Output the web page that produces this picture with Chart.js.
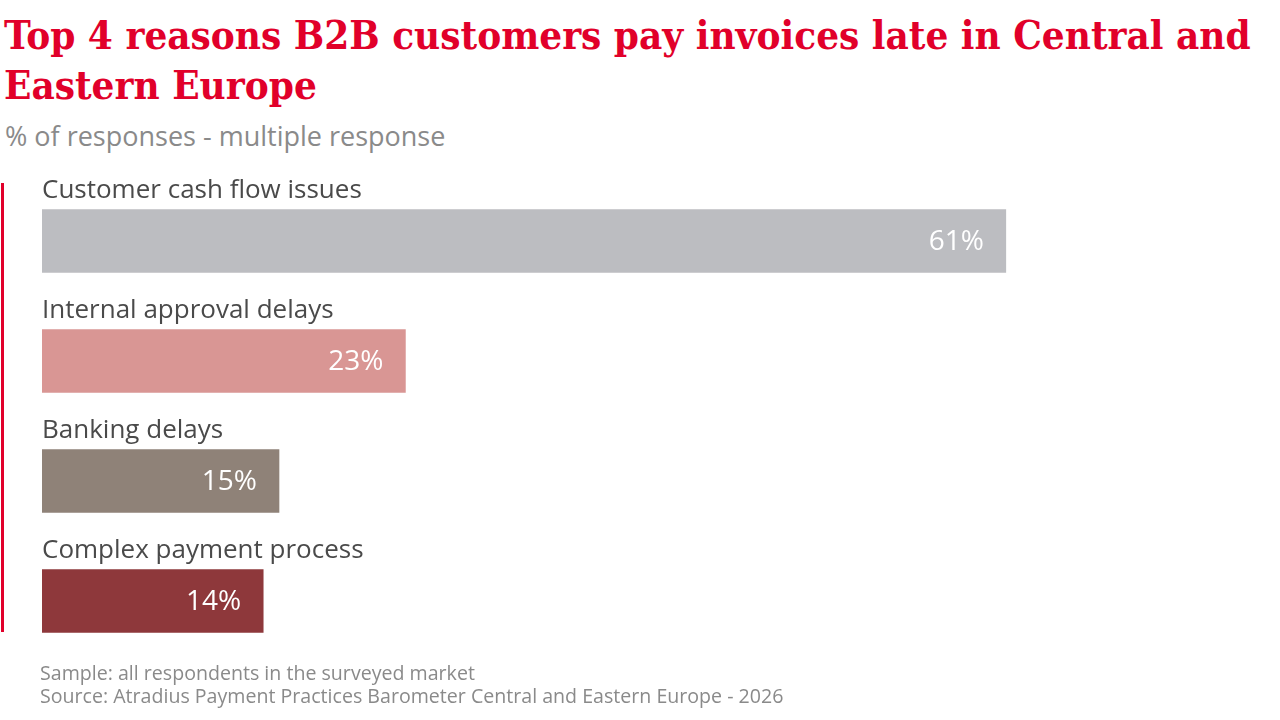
<!DOCTYPE html>
<html>
<head>
<meta charset="utf-8">
<script src="https://cdn.jsdelivr.net/npm/chart.js@4"></script>
<style>
  body { margin: 0; width: 1280px; height: 720px; background: #fff; position: relative; overflow: hidden; }
  #title { position: absolute; left: 4px; top: 10px; width: 1276px; margin: 0;
    font-family: "DejaVu Serif Condensed", "DejaVu Serif", serif; font-weight: bold; font-size: 40px;
    line-height: 50px; color: #E1002A; }
  #subtitle { position: absolute; left: 5px; top: 117px; font-family: "Open Sans", sans-serif;
    font-size: 27px; color: #8a8a8a; }
  #redline { position: absolute; left: 1px; top: 183px; width: 3px; height: 449px; background: #E1002A; }
  #wrap { position: absolute; left: 0; top: 161px; width: 1280px; height: 500px; }
  #footer { position: absolute; left: 40px; top: 661px; font-family: "Open Sans", sans-serif;
    font-size: 19.6px; line-height: 23px; color: #8a8a8a; }
</style>
</head>
<body>
<h1 id="title">Top 4 reasons B2B customers pay invoices late in Central and Eastern Europe</h1>
<div id="subtitle">% of responses - multiple response</div>
<div id="redline"></div>
<div id="wrap"><canvas id="myChart"></canvas></div>
<div id="footer">Sample: all respondents in the surveyed market<br>Source: Atradius Payment Practices Barometer Central and Eastern Europe - 2026</div>
<script>
const categories = ['Customer cash flow issues', 'Internal approval delays', 'Banking delays', 'Complex payment process'];
const values = [61, 23, 15, 14];
const barColors = ['#BCBDC1', '#D99694', '#8F8278', '#8E383B'];

// labels above each bar + value inside at the right end
const barLabels = {
  id: 'barLabels',
  afterDatasetsDraw(chart) {
    const ctx = chart.ctx;
    const meta = chart.getDatasetMeta(0);
    ctx.save();
    meta.data.forEach((bar, i) => {
      ctx.textBaseline = 'middle';
      ctx.textAlign = 'left';
      ctx.fillStyle = '#4a4a4a';
      ctx.font = '26px "Open Sans", sans-serif';
      ctx.fillText(categories[i], bar.base, bar.y - bar.height / 2 - 19);
      ctx.textAlign = 'right';
      ctx.fillStyle = '#ffffff';
      ctx.font = '28px "Open Sans", sans-serif';
      ctx.fillText(values[i] + '%', bar.x - 22, bar.y + 1);
    });
    ctx.restore();
  }
};

const ctx = document.getElementById('myChart').getContext('2d');
new Chart(ctx, {
  type: 'bar',
  data: {
    labels: categories,
    datasets: [{
      data: values,
      backgroundColor: barColors,
      barThickness: 63,
      borderWidth: 0
    }]
  },
  options: {
    indexAxis: 'y',
    responsive: true,
    maintainAspectRatio: false,
    animation: false,
    layout: { padding: { left: 42, right: 53, top: 20, bottom: 0 } },
    scales: {
      x: { display: false, min: 0, max: 75 },
      y: { display: false }
    },
    plugins: {
      legend: { display: false },
      tooltip: { enabled: false }
    }
  },
  plugins: [barLabels]
});
</script>
</body>
</html>
